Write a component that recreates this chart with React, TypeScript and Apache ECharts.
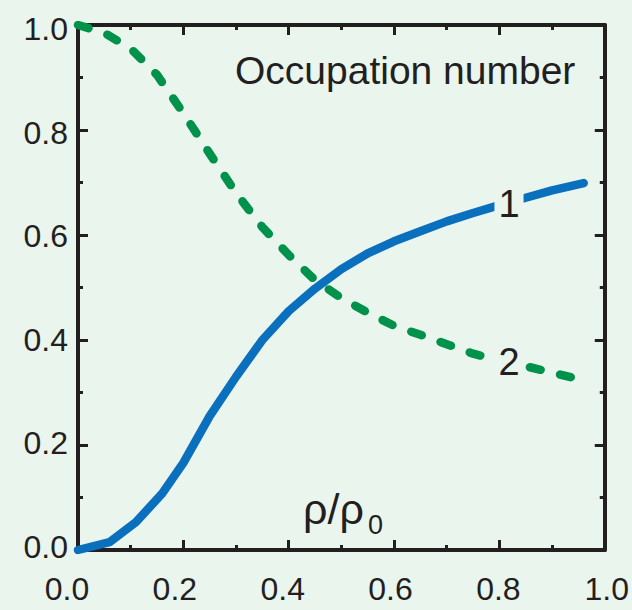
import React, { useEffect, useRef } from "react";
import * as echarts from "echarts";

const curve1X = [0, 0.06, 0.11, 0.16, 0.2, 0.25, 0.3, 0.35, 0.4, 0.45, 0.5, 0.55, 0.6, 0.65, 0.7, 0.75, 0.8, 0.85, 0.9, 0.96];
const curve1Y = [0, 0.015, 0.053, 0.108, 0.166, 0.255, 0.33, 0.4, 0.455, 0.498, 0.535, 0.565, 0.588, 0.607, 0.626, 0.642, 0.657, 0.671, 0.685, 0.699];
const curve2X = [0, 0.05, 0.1, 0.15, 0.2, 0.25, 0.3, 0.35, 0.4, 0.45, 0.5, 0.55, 0.6, 0.65, 0.7, 0.75, 0.8, 0.85, 0.9, 0.96];
const curve2Y = [1.0, 0.985, 0.955, 0.905, 0.832, 0.755, 0.68, 0.615, 0.562, 0.514, 0.48, 0.452, 0.427, 0.41, 0.392, 0.374, 0.361, 0.35, 0.338, 0.323];
const tickLabels = ["0.0", "0.2", "0.4", "0.6", "0.8", "1.0"];
const curveLabels = ["1", "2"];
const titleText = "Occupation number";

const FONT = "'Liberation Sans', Arial, sans-serif";
const INK = "#231f20";
const BLUE = "#0a6fbd";
const GREEN = "#00924a";
const BG = "#eaf5ee";

const xShift = [-11, -8.5, -6, -3.5, -1, 2];
const yShift = [-3.5, -2, -0.5, 1, 2.5, 4];

export default function App() {
  const ref = useRef<HTMLDivElement>(null);
  useEffect(() => {
    const chart = echarts.init(ref.current!, null, { renderer: "svg" });
    const xRich: any = {};
    const yRich: any = {};
    tickLabels.forEach((_, i) => {
      const dx = xShift[i];
      xRich["x" + i] = {
        fontSize: 32,
        fontFamily: FONT,
        color: INK,
        padding: dx < 0 ? [0, -2 * dx, 0, 0] : [0, 0, 0, 2 * dx],
      };
      const dy = yShift[i];
      yRich["y" + i] = {
        fontSize: 32,
        fontFamily: FONT,
        color: INK,
        padding: dy > 0 ? [2 * dy, 0, 0, 0] : [0, 0, -2 * dy, 0],
      };
    });
    const axisCommon = {
      type: "value" as const,
      min: 0,
      max: 1,
      interval: 0.2,
      axisLine: { show: true, onZero: false, lineStyle: { color: INK, width: 4 } },
      axisTick: { show: true, inside: true, length: 10, lineStyle: { color: INK, width: 3 } },
      minorTick: { show: true, splitNumber: 2, length: 5, lineStyle: { color: INK, width: 3 } },
      splitLine: { show: false },
      minorSplitLine: { show: false },
    };
    chart.setOption({
      animation: false,
      backgroundColor: BG,
      grid: { left: 78, right: 26, top: 25, bottom: 60, containLabel: false },
      xAxis: [
        {
          ...axisCommon,
          position: "bottom",
          axisLabel: {
            margin: 23,
            formatter: (v: number) => {
              const i = Math.round(v * 5);
              return `{x${i}|${tickLabels[i]}}`;
            },
            rich: xRich,
          },
        },
        { ...axisCommon, position: "top", axisLabel: { show: false } },
      ],
      yAxis: [
        {
          ...axisCommon,
          position: "left",
          axisLabel: {
            margin: 10,
            formatter: (v: number) => {
              const i = Math.round(v * 5);
              return `{y${i}|${tickLabels[i]}}`;
            },
            rich: yRich,
          },
        },
        { ...axisCommon, position: "right", axisLabel: { show: false } },
      ],
      series: [
        {
          type: "line",
          xAxisIndex: 0,
          yAxisIndex: 0,
          data: curve1X.map((x, i) => [x, curve1Y[i]]),
          showSymbol: false,
          symbol: "none",
          lineStyle: { color: BLUE, width: 8.5, cap: "round", join: "round" },
          z: 3,
        },
        {
          type: "line",
          xAxisIndex: 0,
          yAxisIndex: 0,
          data: curve2X.map((x, i) => [x, curve2Y[i]]),
          showSymbol: false,
          symbol: "none",
          lineStyle: { color: GREEN, width: 8.5, type: [11, 20], cap: "round", join: "round" },
          z: 2,
        },
      ],
      graphic: [
        {
          type: "text",
          left: 235,
          top: 51,
          z: 10,
          style: { text: titleText, fontSize: 39, fontFamily: FONT, fill: INK },
        },
        {
          type: "text",
          x: 509,
          y: 204,
          z: 10,
          style: {
            text: curveLabels[0],
            fontSize: 38,
            fontFamily: FONT,
            fill: INK,
            align: "center",
            verticalAlign: "middle",
            backgroundColor: BG,
            padding: [0, 4, 0, 4],
          },
        },
        {
          type: "text",
          x: 509,
          y: 362,
          z: 10,
          style: {
            text: curveLabels[1],
            fontSize: 38,
            fontFamily: FONT,
            fill: INK,
            align: "center",
            verticalAlign: "middle",
            backgroundColor: BG,
            padding: [0, 4, 0, 4],
          },
        },
        {
          type: "text",
          x: 303,
          y: 509,
          z: 10,
          style: { text: "ρ/ρ", fontSize: 43, fontFamily: FONT, fill: INK, align: "left", verticalAlign: "middle" },
        },
        {
          type: "text",
          x: 368,
          y: 525,
          z: 10,
          style: { text: "0", fontSize: 27, fontFamily: FONT, fill: INK, align: "left", verticalAlign: "middle" },
        },
      ],
    });
    return () => chart.dispose();
  }, []);
  return (
    <div
      ref={ref}
      style={{ position: "fixed", left: 0, top: 0, width: 632, height: 610 }}
    />
  );
}
